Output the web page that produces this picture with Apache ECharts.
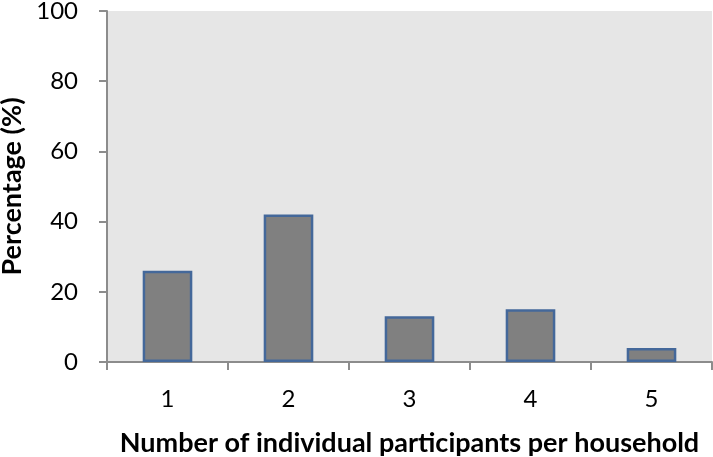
<!DOCTYPE html>
<html>
<head>
<meta charset="utf-8">
<script src="https://cdn.jsdelivr.net/npm/echarts@6/dist/echarts.min.js"></script>
<style>html,body{margin:0;padding:0;background:#fff}#c{width:713px;height:457px}</style>
</head>
<body>
<div id="c"></div>
<script>
const categories = ['1', '2', '3', '4', '5'];
const percentages = [26, 42, 13, 15, 4];
const yTicks = [0, 20, 40, 60, 80, 100];

const chart = echarts.init(document.getElementById('c'), null, {renderer: 'canvas'});
const FONT = 'Lato';
chart.setOption({
  animation: false,
  backgroundColor: '#ffffff',
  grid: {left: 107, right: 1, top: 11, bottom: 95, show: true, backgroundColor: '#e6e6e6', borderWidth: 0,
         containLabel: false, outerBoundsMode: 'none'},
  xAxis: {
    type: 'category',
    data: categories,
    name: 'Number of individual participants per household',
    nameLocation: 'middle',
    nameGap: 68,
    nameTextStyle: {fontFamily: FONT, fontWeight: 'bold', fontSize: 27, color: '#000'},
    axisLine: {lineStyle: {color: '#8c8c8c', width: 2}},
    axisTick: {show: true, alignWithLabel: false, length: 8, lineStyle: {color: '#8c8c8c', width: 2}},
    axisLabel: {fontFamily: FONT, fontSize: 24, color: '#000', margin: 25}
  },
  yAxis: {
    type: 'value',
    min: 0, max: 100, interval: 20,
    name: 'Percentage (%)',
    nameLocation: 'middle',
    nameGap: 80,
    nameTextStyle: {fontFamily: FONT, fontWeight: 'bold', fontSize: 27, color: '#000'},
    axisLine: {show: true, lineStyle: {color: '#8c8c8c', width: 2}},
    axisTick: {show: true, length: 8, lineStyle: {color: '#8c8c8c', width: 2}},
    splitLine: {show: false},
    axisLabel: {fontFamily: FONT, fontSize: 24, color: '#000', margin: 29,
      formatter: v => yTicks.includes(v) ? String(v) : ''}
  },
  series: [{
    type: 'bar',
    data: percentages,
    barWidth: '41%',
    itemStyle: {color: '#808080', borderColor: '#44689a', borderWidth: 2.5}
  }]
});
</script>
</body>
</html>
